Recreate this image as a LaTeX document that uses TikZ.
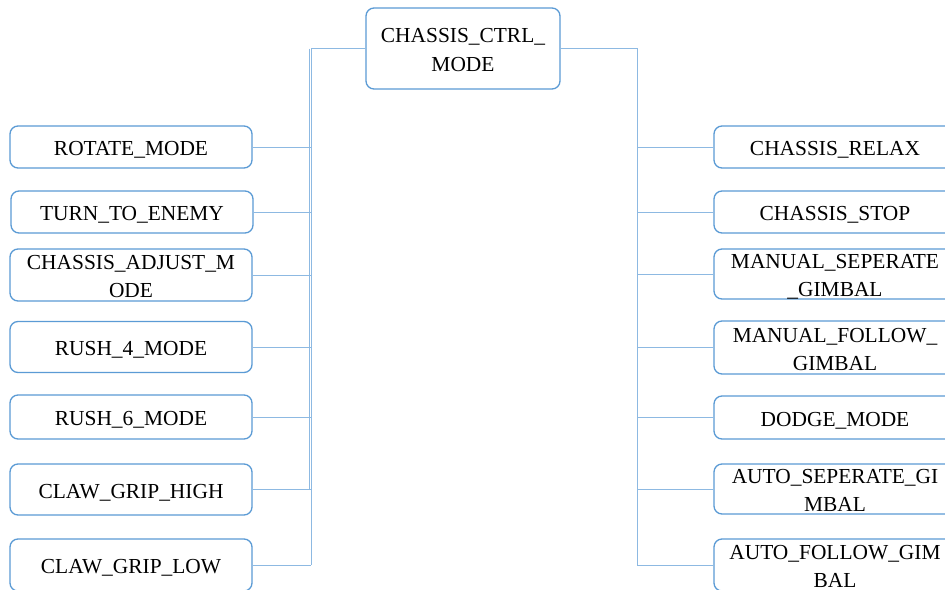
\documentclass[tikz,border=0pt]{standalone}
\usepackage{fontspec}
\setmainfont{Liberation Serif}
\definecolor{boxblue}{HTML}{5B9BD5}
\definecolor{linkblue}{HTML}{8DB9E2}
% label set as a centred stack of lines that takes no height of its own,
% so the box keeps its given size and the text sits slightly low in it
\newcommand\lbl[1]{\raisebox{-8.3pt}[0pt][0pt]{\begin{tabular}{@{}c@{}}#1\end{tabular}}}
\begin{document}
\begin{tikzpicture}[x=1pt,y=-1pt,
  mode/.style={draw=boxblue, line width=1.3pt, rounded corners=8pt, fill=white,
    minimum width=242pt, inner sep=0pt,
    font=\fontsize{21.4}{28}\selectfont, text=black},
  link/.style={draw=linkblue, line width=1pt}]
  \clip (0,0) rectangle (945,589);
  \fill[white] (0,0) rectangle (945,589);

  % root
  \node[mode, minimum width=194pt, minimum height=81pt,
    font=\fontsize{21.4}{29}\selectfont] (root) at (463,48.5) {\lbl{CHASSIS\_CTRL\_\\MODE}};

  % left column
  \node[mode, minimum height=42pt] (rotate) at (131,147) {\lbl{ROTATE\_MODE}};
  \node[mode, minimum height=42pt] (turn)   at (132,212) {\lbl{TURN\_TO\_ENEMY}};
  \node[mode, minimum height=52pt] (adjust) at (131,275) {\lbl{CHASSIS\_ADJUST\_M\\ODE}};
  \node[mode, minimum height=51pt] (rushfour) at (131,347) {\lbl{RUSH\_4\_MODE}};
  \node[mode, minimum height=44pt] (rushsix) at (131,417) {\lbl{RUSH\_6\_MODE}};
  \node[mode, minimum height=51pt] (high)   at (131,489.5) {\lbl{CLAW\_GRIP\_HIGH}};
  \node[mode, minimum height=52pt] (low)    at (131,565) {\lbl{CLAW\_GRIP\_LOW}};

  % right column
  \node[mode, minimum height=42pt] (relax) at (835,147) {\lbl{CHASSIS\_RELAX}};
  \node[mode, minimum height=42pt] (stop)  at (835,212) {\lbl{CHASSIS\_STOP}};
  \node[mode, minimum height=50pt] (msg)   at (835,274) {\lbl{MANUAL\_SEPERATE\\\_GIMBAL}};
  \node[mode, minimum height=53pt] (mfg)   at (835,347.5) {\lbl{MANUAL\_FOLLOW\_\\GIMBAL}};
  \node[mode, minimum height=43pt] (dodge) at (835,417.5) {\lbl{DODGE\_MODE}};
  \node[mode, minimum height=50pt] (asg)   at (835,489) {\lbl{AUTO\_SEPERATE\_GI\\MBAL}};
  \node[mode, minimum height=52pt] (afg)   at (835,565) {\lbl{AUTO\_FOLLOW\_GIM\\BAL}};

  % bus positions
  \coordinate (lbus) at (311,48.5);
  \coordinate (lbusb) at (309,48.5);
  \coordinate (rbus) at (637,48.5);

  % left branches
  \draw[link] (root.west) -| (low.east -| lbus);
  \draw[link] (lbusb) -- (high.east -| lbusb);
  \foreach \n in {rotate,turn,adjust,rushfour,rushsix,high,low}
    \draw[link] (\n.east) -- (\n.east -| lbus);

  % right branches
  \draw[link] (root.east) -| (afg.west -| rbus);
  \foreach \n in {relax,stop,msg,mfg,dodge,asg,afg}
    \draw[link] (\n.west) -- (\n.west -| rbus);
\end{tikzpicture}
\end{document}
